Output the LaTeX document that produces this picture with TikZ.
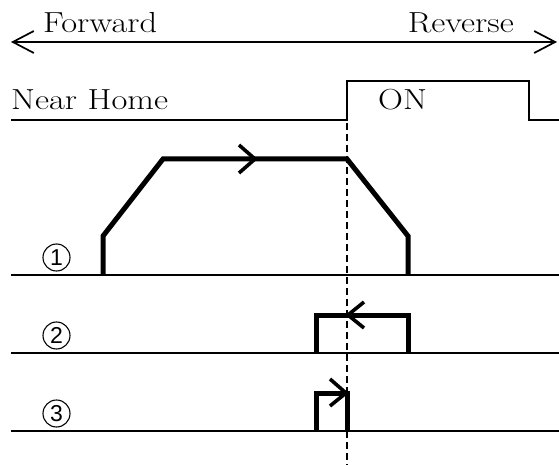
\documentclass[tikz,border=0pt]{standalone}
\usepackage{fontspec}
\usepackage{graphicx}
\setsansfont{Liberation Sans}
\usetikzlibrary{arrows.meta}
\newcommand{\widetxt}[1]{\scalebox{1.19}[1]{#1}}
\tikzset{
  thinline/.style={line width=1.7pt},
  wave/.style={line width=5pt, line join=miter},
  chev/.style={line width=3.6pt},
  lbl/.style={font=\fontsize{29}{31}\selectfont, inner sep=0pt},
  num/.style={circle, draw, line width=1.1pt, minimum size=27pt, inner sep=0pt,
              font=\sffamily\fontsize{23}{25}\selectfont},
  dashline/.style={line width=1.5pt, dash pattern=on 7pt off 4pt}
}
\begin{document}
\begin{tikzpicture}[x=1pt,y=-1pt]
\useasboundingbox (0,0) rectangle (559,465);
% direction arrow
\coordinate (L) at (11,42);
\coordinate (R) at (557,42);
\draw[thinline, {Straight Barb[length=21pt,width=22pt]}-{Straight Barb[length=21pt,width=22pt]}] (L) -- (R);
\node[lbl, anchor=base west] (fw) at (43,33) {\widetxt{Forward}};
\node[lbl, anchor=base east] (rv) at (514,33) {\widetxt{Reverse}};
% Near home signal
\coordinate (n0) at (11,120);
\coordinate (n1) at (347,120);
\coordinate (n2) at (347,81);
\coordinate (n3) at (529,81);
\coordinate (n4) at (529,120);
\coordinate (n5) at (559,120);
\draw[thinline] (n0) -- (n1) -- (n2) -- (n3) -- (n4) -- (n5);
\node[lbl, anchor=base west] (nh) at (11,110) {\widetxt{Near Home}};
\node[lbl, anchor=base west] (on) at (378,110) {\widetxt{ON}};
% dashed line
\coordinate (d0) at (347,123);
\coordinate (d1) at (347,465);
\draw[dashline] (d0) -- (d1);
% baselines
\foreach \y/\n [count=\i] in {275/1,353/2,431/3}{
  \draw[thinline] (11,\y) -- (559,\y);
  \node[num] (c\i) at (56.5,\y-17.5) {\n};
}
% pattern 1
\coordinate (a0) at (103,275);
\coordinate (a1) at (103,236);
\coordinate (a2) at (163,159);
\coordinate (a3) at (347,159);
\coordinate (a4) at (408,236);
\coordinate (a5) at (408,275);
\draw[wave] (a0) -- (a1) -- (a2) -- (a3) -- (a4) -- (a5);
\draw[chev] (239,145) -- (255,159) -- (239,173);
% pattern 2
\coordinate (b0) at (316,353);
\coordinate (b1) at (316,315);
\coordinate (b2) at (408,315);
\coordinate (b3) at (408,353);
\draw[wave] (b0) -- (b1) -- (b2) -- (b3);
\draw[chev] (364,302) -- (348,315) -- (364,328);
% pattern 3
\coordinate (e0) at (316,431);
\coordinate (e1) at (316,393);
\coordinate (e2) at (347,393);
\coordinate (e3) at (347,431);
\draw[wave] (e0) -- (e1) -- (e2) -- (e3);
\draw[chev] (330,379) -- (346,393) -- (330,406);
\end{tikzpicture}
\end{document}
